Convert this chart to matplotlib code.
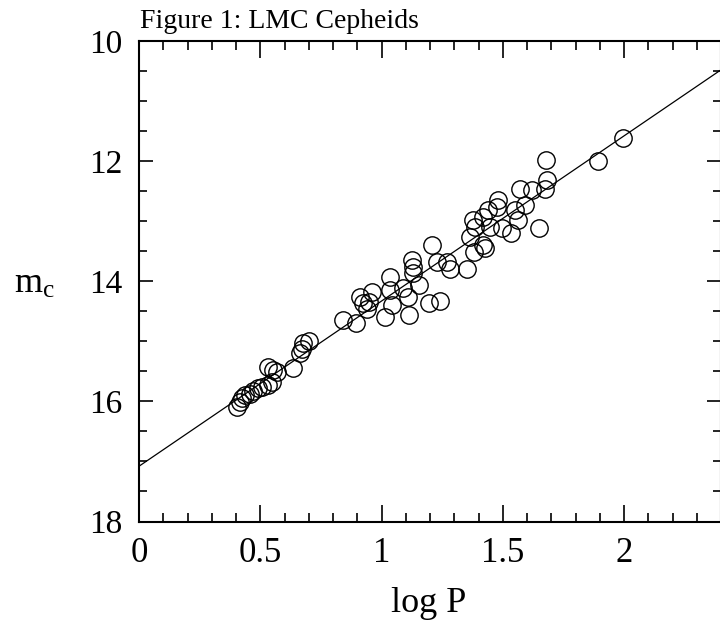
import matplotlib
matplotlib.use("Agg")
import matplotlib.pyplot as plt
import numpy as np

plt.rcParams['font.family'] = ['Liberation Serif', 'DejaVu Serif']
plt.rcParams['mathtext.fontset'] = 'custom'
plt.rcParams['mathtext.rm'] = 'Liberation Serif'
plt.rcParams['mathtext.it'] = 'Liberation Serif'

# Data: log P vs m_c (LMC Cepheids)
log_p = [0.403, 0.416, 0.424, 0.437, 0.458, 0.470, 0.491, 0.506, 0.532, 0.547,
         0.532, 0.553, 0.568, 0.634, 0.664, 0.671, 0.676, 0.700,
         0.840, 0.895, 0.911, 0.925, 0.939, 0.960, 0.950, 1.014, 1.035, 1.035,
         1.042, 1.090, 1.110, 1.115, 1.125, 1.131, 1.131, 1.156, 1.197, 1.241,
         1.207, 1.228, 1.269, 1.282, 1.351, 1.365, 1.381, 1.417, 1.427, 1.379,
         1.386, 1.420, 1.440, 1.475, 1.482, 1.447, 1.496, 1.536, 1.551, 1.564,
         1.592, 1.571, 1.619, 1.651, 1.674, 1.681, 1.678, 1.894, 1.995]
m_c = [16.095, 16.01, 15.95, 15.90, 15.87, 15.82, 15.78, 15.76, 15.73, 15.68,
       15.42, 15.47, 15.51, 15.45, 15.20, 15.12, 15.03, 15.00,
       14.64, 14.70, 14.26, 14.37, 14.46, 14.18, 14.35, 14.60, 13.93, 14.15,
       14.40, 14.12, 14.26, 14.57, 13.65, 13.76, 13.87, 14.07, 14.37, 14.33,
       13.40, 13.68, 13.68, 13.79, 13.80, 13.26, 13.51, 13.40, 13.45, 12.98,
       13.10, 12.93, 12.82, 12.76, 12.65, 13.10, 13.12, 13.20, 12.82, 12.98,
       12.73, 12.46, 12.48, 13.11, 12.46, 12.31, 11.98, 12.00, 11.61]

fit_intercept = 17.08
fit_slope = -2.75

x_ticks = [0, 0.5, 1, 1.5, 2]
x_tick_labels = ['0', '0.5', '1', '1.5', '2']
y_ticks = [10, 12, 14, 16, 18]
y_tick_labels = ['10', '12', '14', '16', '18']

fig = plt.figure(figsize=(7.2, 6.32), dpi=100)
ax = fig.add_axes([139/720, 1 - 521.5/632, 582/720, 480.5/632])

ax.plot(log_p, m_c, linestyle='none', marker='o', markersize=12.5,
        markerfacecolor='none', markeredgecolor='black', markeredgewidth=1.0)

xl = np.array([0.0, 2.4])
ax.plot(xl, fit_intercept + fit_slope * xl, color='black', linewidth=0.9)

ax.set_xlim(0, 2.4)
ax.set_ylim(18, 10)

ax.set_xticks(x_ticks)
ax.set_xticklabels(x_tick_labels)
ax.set_yticks(y_ticks)
ax.set_yticklabels(y_tick_labels)
ax.set_xticks(np.arange(0, 2.41, 0.1), minor=True)
ax.set_yticks(np.arange(10, 18.01, 0.5), minor=True)

ax.tick_params(axis='both', which='both', direction='in', top=True, right=True,
               width=1.2, colors='black')
ax.tick_params(axis='x', which='major', length=12, pad=11, labelsize=25)
ax.tick_params(axis='x', which='minor', length=6.5)
ax.tick_params(axis='y', which='major', length=10, pad=12, labelsize=24)
ax.tick_params(axis='y', which='minor', length=5.5)

for s in ax.spines.values():
    s.set_linewidth(1.5)

fig.text(140/720, 1 - 28/632, 'Figure 1: LMC Cepheids', fontsize=20,
         ha='left', va='baseline')
fig.text(429/720, 1 - 604/632, 'log P', fontsize=26, ha='center', va='center')
fig.text(34/720, 1 - 284/632, r'$\mathrm{m_c}$', fontsize=26, ha='center', va='center')

fig.savefig('out.png', dpi=100)
